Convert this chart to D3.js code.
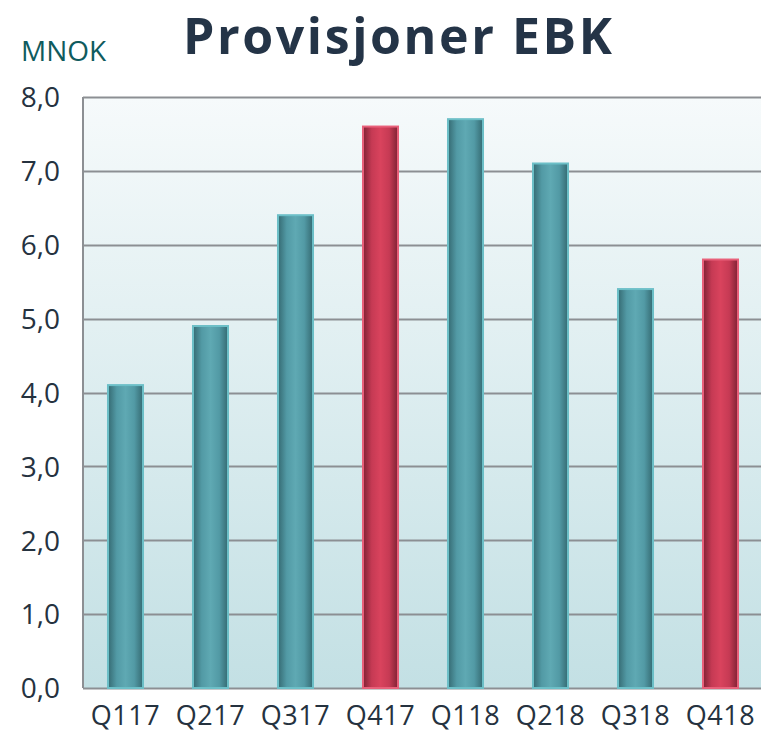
<!DOCTYPE html>
<html>
<head>
<meta charset="utf-8">
<script src="https://d3js.org/d3.v7.min.js"></script>
<style>
  html, body { margin: 0; padding: 0; background: #ffffff; }
  svg { display: block; }
</style>
</head>
<body>
<svg id="chart" width="761" height="734"></svg>
<script>
const categories = ["Q117", "Q217", "Q317", "Q417", "Q118", "Q218", "Q318", "Q418"];
const values = [4.1, 4.9, 6.4, 7.6, 7.7, 7.1, 5.4, 5.8];
const highlighted = ["Q417", "Q418"];
const yTicks = [0, 1, 2, 3, 4, 5, 6, 7, 8];
const titleText = "Provisjoner EBK";
const unitText = "MNOK";

const svg = d3.select("#chart");
const margin = { left: 83, right: -2, top: 97, bottom: 46 };
const W = 761, H = 734;

const x = d3.scaleBand().domain(categories).range([margin.left, W - margin.right]).paddingInner(0.588).paddingOuter(0.294);
const y = d3.scaleLinear().domain([0, 8]).range([H - margin.bottom, margin.top]);

const defs = svg.append("defs");
const bg = defs.append("linearGradient").attr("id", "bg").attr("x1", 0).attr("y1", 0).attr("x2", 0).attr("y2", 1);
bg.append("stop").attr("offset", "0%").attr("stop-color", "#f6fafb");
bg.append("stop").attr("offset", "100%").attr("stop-color", "#c3e0e4");

function barGrad(id, edge, mid, light) {
  const g = defs.append("linearGradient").attr("id", id).attr("x1", 0).attr("y1", 0).attr("x2", 1).attr("y2", 0);
  g.append("stop").attr("offset", "0%").attr("stop-color", edge);
  g.append("stop").attr("offset", "25%").attr("stop-color", mid);
  g.append("stop").attr("offset", "50%").attr("stop-color", light);
  g.append("stop").attr("offset", "75%").attr("stop-color", mid);
  g.append("stop").attr("offset", "100%").attr("stop-color", edge);
}
barGrad("teal", "#356a72", "#529aa5", "#5fa9b3");
barGrad("red", "#7e2234", "#c63a54", "#d9435d");

const x0 = margin.left, x1 = W - margin.right;
svg.append("rect").attr("x", x0).attr("y", y(8)).attr("width", x1 - x0).attr("height", y(0) - y(8)).attr("fill", "url(#bg)");

// gridlines
svg.append("g").selectAll("line").data(yTicks).join("line")
  .attr("x1", x0).attr("x2", x1)
  .attr("y1", d => Math.round(y(d)) + 0.5).attr("y2", d => Math.round(y(d)) + 0.5)
  .attr("stroke", "#8c8f93").attr("stroke-width", 2);
// left axis line
svg.append("line").attr("x1", x0).attr("x2", x0).attr("y1", y(8)).attr("y2", y(0))
  .attr("stroke", "#8c8f93").attr("stroke-width", 2);

// bars
svg.append("g").selectAll("rect").data(categories).join("rect")
  .attr("x", d => x(d))
  .attr("y", (d, i) => y(values[i]))
  .attr("width", x.bandwidth())
  .attr("height", (d, i) => y(0) - y(values[i]))
  .attr("fill", d => highlighted.includes(d) ? "url(#red)" : "url(#teal)")
  .attr("stroke", d => highlighted.includes(d) ? "#e8607a" : "#6cbfc7")
  .attr("stroke-width", 2);

// y tick labels
const yAxis = d3.axisLeft(y).tickValues(yTicks).tickSize(0).tickPadding(0)
  .tickFormat(d => d3.format(".1f")(d).replace(".", ","));
const ya = svg.append("g").attr("transform", `translate(60,0)`).call(yAxis);
ya.select(".domain").remove();
ya.selectAll("text").attr("font-family", "'Open Sans', sans-serif").attr("font-size", 28)
  .attr("fill", "#25323f").attr("dy", "0.35em");

// x labels
const xAxis = d3.axisBottom(x).tickSize(0).tickPadding(0);
const xa = svg.append("g").attr("transform", `translate(0,${y(0)})`).call(xAxis);
xa.select(".domain").remove();
xa.selectAll("text").attr("font-family", "'Open Sans', sans-serif").attr("font-size", 27)
  .attr("letter-spacing", 0.5)
  .attr("fill", "#25323f").attr("dy", null).attr("y", 37);

// unit label
svg.append("text").attr("x", 21).attr("y", 61).text(unitText)
  .attr("font-family", "'Open Sans', sans-serif").attr("font-size", 28).attr("fill", "#0f5b5e");

// title
svg.append("text").attr("x", 183).attr("y", 54).text(titleText)
  .attr("textLength", 429).attr("lengthAdjust", "spacing")
  .attr("font-family", "'Open Sans', sans-serif").attr("font-weight", "bold").attr("font-size", 50).attr("fill", "#243447");
</script>
</body>
</html>
